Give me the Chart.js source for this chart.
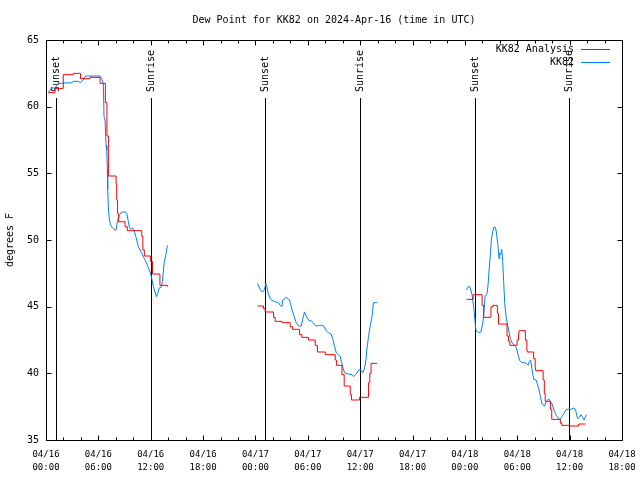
<!DOCTYPE html>
<html>
<head>
<meta charset="utf-8">
<script src="https://cdn.jsdelivr.net/npm/chart.js@4"></script>
<style>
html,body{margin:0;padding:0;background:#fff;}
canvas{display:block;}
</style>
</head>
<body>
<canvas id="c" width="640" height="480"></canvas>
<script>
// ---- data (hours since 04/16 00:00 UTC) ----
const anaHours = [0.26,1.03,1.98,3.13,3.96,5.05,6.19,6.8,6.98,7.15,8.03,8.1,8.2,8.3,9.06,9.32,10.97,11.1,11.27,11.95,12.2,13.05,13.95,
  19,
  24.23,24.92,25.11,26.07,26.26,27.03,27.98,28.25,29.05,29.32,30.08,30.85,31.1,32.0,33.14,33.3,33.91,34.17,34.86,35.0,35.93,36.96,37.1,37.25,37.92,
  43,
  48.17,48.94,49.97,50.15,50.99,51.2,51.72,51.85,52.83,53.0,53.15,53.98,54.15,54.2,54.93,55.1,55.15,55.88,56.05,56.1,56.96,57.1,57.2,57.8,57.95,58.94,59.1,60.01,61.04,61.81];
const anaDewF = [61.05,61.37,62.4,62.5,62.1,62.2,61.75,60.3,57.8,54.8,54.2,53.0,52.0,51.37,51.0,50.7,50.3,49.25,48.8,48.4,47.45,46.6,46.5,
  null,
  45.05,44.85,44.6,44.2,43.9,43.8,43.5,43.3,42.9,42.7,42.5,42.1,41.6,41.4,41.0,40.6,39.9,39.05,38.4,38.0,38.2,39.3,40.0,40.75,40.75,
  null,
  45.55,45.9,45.1,44.2,45.0,45.1,44.5,43.7,42.8,42.4,42.1,42.5,43.0,43.2,42.5,41.7,41.6,41.1,40.4,40.2,39.5,38.5,37.9,37.3,36.55,36.25,36.1,36.05,36.2,36.2];

const obsHours = [0.26,0.46,0.65,1.03,1.22,1.41,2.94,3.13,3.7,3.9,4.09,4.28,4.47,4.66,6.19,6.38,6.57,6.65,6.77,6.88,6.96,7.03,7.07,7.15,7.26,7.42,7.64,7.91,8.03,8.18,8.41,8.68,9.06,9.25,9.44,9.55,9.71,9.94,10.09,10.32,10.58,10.97,11.35,11.62,11.93,12.12,12.31,12.5,12.65,12.81,12.96,13.19,13.34,13.53,13.73,13.91,
  19,
  24.23,24.46,24.62,24.85,25.04,25.19,25.3,25.5,25.69,26.07,26.64,26.83,27.03,27.14,27.52,27.9,28.06,28.36,28.67,28.94,29.24,29.43,29.62,29.82,30.08,30.47,30.73,30.96,31.34,31.61,31.88,32.11,32.38,32.65,32.88,33.03,33.26,33.52,33.72,33.91,34.09,34.29,34.67,35.06,35.24,35.55,35.81,36.09,36.32,36.5,36.66,36.78,36.96,37.16,37.35,37.53,37.92,
  43,
  48.17,48.43,48.62,48.82,49.0,49.08,49.2,49.28,49.58,49.85,50.04,50.15,50.31,50.54,50.65,50.77,50.92,51.03,51.18,51.3,51.49,51.6,51.76,51.91,51.99,52.1,52.22,52.33,52.44,52.56,52.72,52.9,53.06,53.21,53.44,53.7,53.9,54.09,54.28,54.55,54.82,55.05,55.24,55.39,55.54,55.7,55.88,56.16,56.34,56.5,56.65,56.84,57.11,57.34,57.6,57.8,57.99,58.18,58.41,58.64,58.87,59.06,59.25,59.44,59.63,59.9,60.17,60.47,60.67,60.78,60.93,61.12,61.32,61.5,61.66,61.78,61.93];
const obsDewF = [61.05,61.25,61.4,61.4,61.6,61.75,61.8,61.9,61.9,61.8,61.9,62.0,62.25,62.3,62.3,62.1,61.75,59.25,59.0,57.1,56.75,55.25,53.8,52.4,51.5,51.1,50.9,50.75,50.75,51.37,51.87,52.1,52.1,52.0,51.37,50.95,50.8,50.9,50.75,50.2,49.5,49.0,48.5,48.1,47.6,47.1,46.5,46.1,45.75,46.0,46.4,46.45,46.9,48.25,48.9,49.6,
  null,
  46.75,46.4,46.2,46.1,46.3,46.75,46.5,45.9,45.6,45.4,45.3,45.1,45.0,45.5,45.7,45.5,45.1,44.4,43.8,43.55,43.55,44.1,44.6,44.3,44.0,43.9,43.7,43.55,43.6,43.6,43.5,43.2,43.05,42.95,42.55,42.1,41.55,41.4,41.25,40.75,40.25,40.0,39.95,39.9,39.75,39.95,40.25,40.25,40.05,40.4,41.0,41.9,42.75,43.6,44.25,45.3,45.3,
  null,
  46.25,46.55,46.4,45.9,45.0,44.5,43.6,43.2,43.05,43.1,43.75,44.4,45.75,46.0,46.6,47.75,48.9,50.0,50.6,50.95,50.95,50.6,49.75,48.6,49.0,48.9,49.3,48.4,46.9,45.25,44.25,43.6,43.1,42.6,42.25,42.1,41.9,41.4,40.95,40.8,40.8,40.75,40.6,40.9,41.0,40.25,39.55,39.5,39.1,38.75,38.25,37.7,37.55,37.9,38.1,37.9,37.7,37.3,36.9,36.7,36.5,36.7,36.9,37.1,37.3,37.3,37.3,37.4,37.3,36.95,36.6,36.7,36.9,36.7,36.5,36.7,36.9];

const xTickDates = ['04/16','04/16','04/16','04/16','04/17','04/17','04/17','04/17','04/18','04/18','04/18','04/18'];
const xTickTimes = ['00:00','06:00','12:00','18:00','00:00','06:00','12:00','18:00','00:00','06:00','12:00','18:00'];
const yTicks = [35,40,45,50,55,60,65];
const sunHours = [1.18,12.04,25.13,35.93,49.12,59.9];
const sunLabels = ['Sunset','Sunrise','Sunset','Sunrise','Sunset','Sunrise'];

const titleText = 'Dew Point for KK82 on 2024-Apr-16 (time in UTC)';
const yTitle = 'degrees F';
const FONT = '"DejaVu Sans Mono", "Liberation Mono", monospace';

function pts(xs, ys){ return xs.map((x,i)=>({x:x, y:ys[i]})); }

const decor = {
  id: 'decor',
  beforeDatasetsDraw(chart){
    const ctx = chart.ctx, xs = chart.scales.x, a = chart.chartArea;
    ctx.save();
    ctx.strokeStyle = '#000'; ctx.lineWidth = 1;
    ctx.fillStyle = '#000';
    ctx.font = '10px ' + FONT;
    sunHours.forEach((h,i)=>{
      const px = Math.round(xs.getPixelForValue(h)) + 0.5;
      ctx.beginPath(); ctx.moveTo(px, 98); ctx.lineTo(px, a.bottom); ctx.stroke();
      ctx.save();
      ctx.translate(px, 92);
      ctx.rotate(-Math.PI/2);
      ctx.textAlign = 'left'; ctx.textBaseline = 'middle';
      ctx.fillText(sunLabels[i], 0, 0);
      ctx.restore();
    });
    ctx.restore();
  },
  afterDraw(chart){
    const ctx = chart.ctx, xs = chart.scales.x, ys = chart.scales.y, a = chart.chartArea;
    ctx.save();
    ctx.strokeStyle = '#000'; ctx.lineWidth = 1; ctx.fillStyle = '#000';
    const L = Math.round(a.left)+0.5, R = Math.round(a.right)+0.5, T = Math.round(a.top)+0.5, B = Math.round(a.bottom)+0.5;
    ctx.strokeRect(L, T, R-L, B-T);
    ctx.beginPath();
    for (let h = 0; h <= 66; h += 2) {
      const px = Math.round(xs.getPixelForValue(h)) + 0.5;
      const len = (h % 6 === 0) ? 5 : 3;
      ctx.moveTo(px, B); ctx.lineTo(px, B-len);
      ctx.moveTo(px, T); ctx.lineTo(px, T+len);
    }
    yTicks.forEach(v=>{
      const py = Math.round(ys.getPixelForValue(v)) + 0.5;
      ctx.moveTo(L, py); ctx.lineTo(L+5, py);
      ctx.moveTo(R, py); ctx.lineTo(R-5, py);
    });
    ctx.stroke();
    // title
    ctx.font = '10px ' + FONT;
    ctx.textAlign = 'center'; ctx.textBaseline = 'middle';
    ctx.fillText(titleText, (a.left + a.right)/2, 20);
    // y title
    ctx.save();
    ctx.translate(10, (a.top + a.bottom)/2);
    ctx.rotate(-Math.PI/2);
    ctx.fillText(yTitle, 0, 0);
    ctx.restore();
    // legend
    const rows = [49, 62];
    chart.data.datasets.forEach((ds, i)=>{
      const y = rows[i];
      ctx.textAlign = 'right'; ctx.textBaseline = 'middle';
      ctx.fillStyle = '#000';
      ctx.fillText(ds.label, 574, y + 0.5);
      ctx.strokeStyle = ds.borderColor;
      ctx.beginPath(); ctx.moveTo(581, y + 0.5); ctx.lineTo(610, y + 0.5); ctx.stroke();
    });
    ctx.restore();
  }
};

new Chart(document.getElementById('c'), {
  type: 'line',
  data: {
    datasets: [
      { label: 'KK82 Analysis', data: pts(anaHours, anaDewF), borderColor: '#ff0000', borderWidth: 1, pointRadius: 0, stepped: 'before', spanGaps: false, fill: false },
      { label: 'KK82', data: pts(obsHours, obsDewF), borderColor: '#0080ff', borderWidth: 1, pointRadius: 0, tension: 0, spanGaps: false, fill: false }
    ]
  },
  options: {
    responsive: false,
    animation: false,
    devicePixelRatio: 1,
    layout: { padding: { top: 40, right: 18, left: 0, bottom: 0 } },
    plugins: { legend: { display: false }, title: { display: false }, tooltip: { enabled: false } },
    scales: {
      x: {
        type: 'linear', min: 0, max: 66,
        afterFit(s){ s.height = 40; s.paddingLeft = 0; s.paddingRight = 0; },
        grid: { display: false, drawTicks: false },
        border: { display: false },
        ticks: {
          stepSize: 6, autoSkip: false, maxRotation: 0, minRotation: 0,
          padding: 9, color: '#000',
          font: { family: FONT, size: 9, lineHeight: 1.35 },
          callback(v){ const i = Math.round(v/6); return [xTickDates[i], xTickTimes[i]]; }
        }
      },
      y: {
        min: 35, max: 65,
        afterFit(s){ s.width = 46; s.paddingTop = 0; s.paddingBottom = 0; },
        grid: { display: false, drawTicks: false },
        border: { display: false },
        afterBuildTicks(s){ s.ticks = yTicks.map(v=>({value:v})); },
        ticks: { padding: 7, color: '#000', font: { family: FONT, size: 10 } }
      }
    }
  },
  plugins: [decor]
});
</script>
</body>
</html>
